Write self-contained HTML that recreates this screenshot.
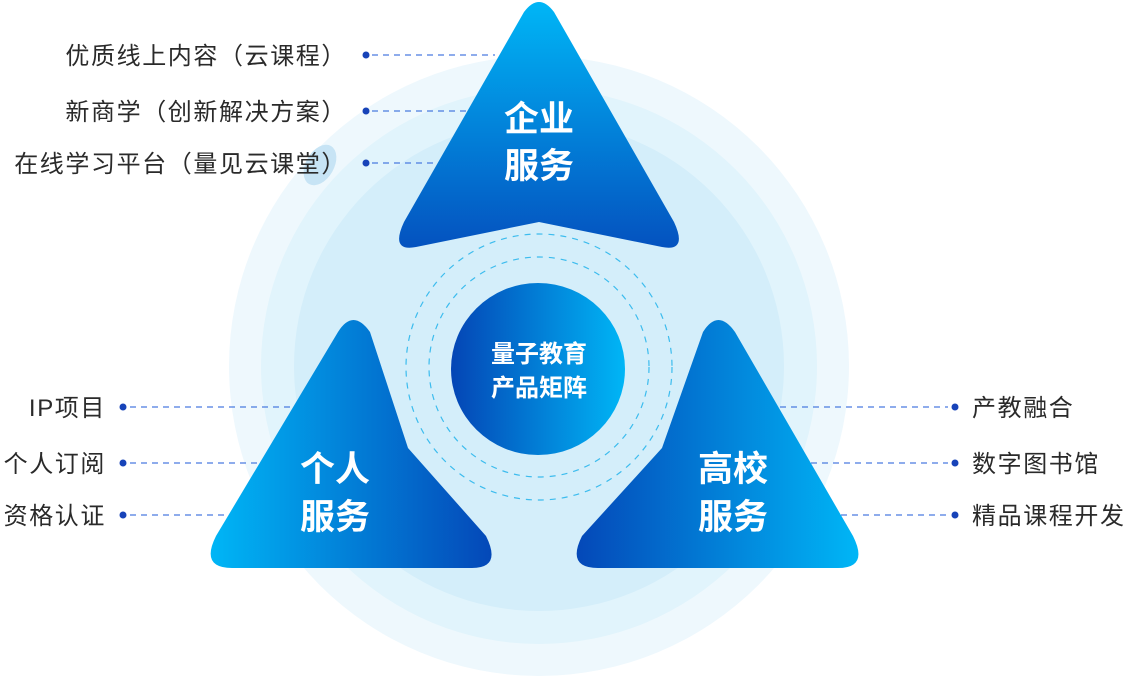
<!DOCTYPE html>
<html><head><meta charset="utf-8"><style>
html,body{margin:0;padding:0;background:#fff;}
svg{display:block;}
text{font-family:"Liberation Sans","Noto Sans CJK SC",sans-serif;}
</style></head><body>
<svg width="1130" height="677" viewBox="0 0 1130 677" xmlns="http://www.w3.org/2000/svg">
<defs>
<linearGradient id="gTop" x1="0" y1="0" x2="0" y2="1"><stop offset="0" stop-color="#00b6f6"/><stop offset="1" stop-color="#0452bf"/></linearGradient>
<linearGradient id="gL" x1="0" y1="0" x2="1" y2="0"><stop offset="0" stop-color="#00b6f6"/><stop offset="1" stop-color="#0448b8"/></linearGradient>
<linearGradient id="gR" x1="0" y1="0" x2="1" y2="0"><stop offset="0" stop-color="#0448b8"/><stop offset="1" stop-color="#00b6f6"/></linearGradient>
<linearGradient id="gC" x1="0" y1="0" x2="1" y2="0"><stop offset="0" stop-color="#0445b5"/><stop offset="1" stop-color="#00b6f6"/></linearGradient>
</defs>
<circle cx="539" cy="366" r="310" fill="#eef8fd"/>
<circle cx="539" cy="366" r="278" fill="#e1f4fc"/>
<circle cx="539" cy="366" r="245" fill="#d4eefa"/>
<ellipse cx="320" cy="165" rx="14" ry="22" fill="#c7e4f5" transform="rotate(30 320 165)"/>
<circle cx="539" cy="367" r="133" fill="none" stroke="#3cbcee" stroke-width="1.2" stroke-dasharray="6 6"/>
<circle cx="539" cy="367" r="110" fill="none" stroke="#3cbcee" stroke-width="1.2" stroke-dasharray="6 6"/>
<g stroke="#4a7be0" stroke-width="1.2" stroke-dasharray="6 5">
<line x1="372" y1="55" x2="495" y2="55"/>
<line x1="372" y1="111" x2="470" y2="111"/>
<line x1="372" y1="163" x2="440" y2="163"/>
<line x1="130" y1="407" x2="300" y2="407"/>
<line x1="130" y1="463" x2="270" y2="463"/>
<line x1="130" y1="515" x2="240" y2="515"/>
<line x1="780" y1="407" x2="948" y2="407"/>
<line x1="800" y1="463" x2="948" y2="463"/>
<line x1="830" y1="515" x2="948" y2="515"/>
</g>
<g fill="#1743b8">
<circle cx="366" cy="55" r="3.5"/><circle cx="366" cy="111" r="3.5"/><circle cx="366" cy="163" r="3.5"/>
<circle cx="123" cy="407" r="3.5"/><circle cx="123" cy="463" r="3.5"/><circle cx="123" cy="515" r="3.5"/>
<circle cx="955" cy="407" r="3.5"/><circle cx="955" cy="463" r="3.5"/><circle cx="955" cy="515" r="3.5"/>
</g>
<path d="M524 12 Q539 -8 554 12 L674 222 Q688 252 662 247 L539 222 L416 247 Q390 252 404 222 Z" fill="url(#gTop)"/>
<path d="M338 332 Q353 308 370 332 L408 448 L486 536 Q502 568 472 568 L232 568 Q200 568 216 536 Z" fill="url(#gL)"/>
<path d="M703 332 Q718 308 735 332 L853 536 Q869 568 838 568 L598 568 Q566 568 582 536 L662 448 Z" fill="url(#gR)"/>
<ellipse cx="538" cy="369" rx="87" ry="86" fill="url(#gC)"/>
<g fill="#fff" font-weight="bold" text-anchor="middle">
<text x="539" y="131" font-size="35">企业</text>
<text x="539" y="178" font-size="35">服务</text>
<text x="335" y="481" font-size="35">个人</text>
<text x="335" y="529" font-size="35">服务</text>
<text x="733" y="481" font-size="35">高校</text>
<text x="733" y="529" font-size="35">服务</text>
<text x="539" y="362" font-size="24">量子教育</text>
<text x="539" y="396" font-size="24">产品矩阵</text>
</g>
<g fill="#2a2a2a" font-size="24" letter-spacing="1.6">
<text x="347" y="64" text-anchor="end">优质线上内容（云课程）</text>
<text x="347" y="120" text-anchor="end">新商学（创新解决方案）</text>
<text x="347" y="172" text-anchor="end">在线学习平台（量见云课堂）</text>
<text x="106" y="416" text-anchor="end">IP项目</text>
<text x="106" y="472" text-anchor="end">个人订阅</text>
<text x="106" y="524" text-anchor="end">资格认证</text>
<text x="972" y="416">产教融合</text>
<text x="972" y="472">数字图书馆</text>
<text x="972" y="524">精品课程开发</text>
</g>
</svg>
</body></html>
